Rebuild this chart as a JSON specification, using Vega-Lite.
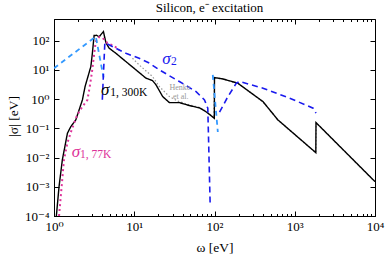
{
  "$schema": "https://vega.github.io/schema/vega-lite/v6.json",
  "width": 321,
  "height": 197,
  "autosize": {"type": "none"},
  "padding": {"left": 54, "top": 19, "right": 15, "bottom": 43},
  "background": "white",
  "title": {"text": "Silicon, e⁻ excitation", "font": "Liberation Serif", "fontSize": 13, "fontWeight": "normal", "color": "black", "offset": 4, "dx": -5},
  "config": {
    "view": {"stroke": "black", "strokeWidth": 1},
    "axis": {"labelFont": "Liberation Serif, DejaVu Serif", "labelFontSize": 13, "labelColor": "black", "tickColor": "black", "domainColor": "black", "grid": false, "labelFlush": false, "labelOverlap": false, "titleFont": "Liberation Serif", "titleFontSize": 13.5, "titleFontWeight": "normal", "titleColor": "black"}
  },
  "datasets": {
    "lines": [
      {"s": "s1_300", "g": "a", "w": 1.07, "v": 0.0001},
      {"s": "s1_300", "g": "a", "w": 1.155, "v": 0.001},
      {"s": "s1_300", "g": "a", "w": 1.27, "v": 0.0083},
      {"s": "s1_300", "g": "a", "w": 1.47, "v": 0.068},
      {"s": "s1_300", "g": "a", "w": 1.62, "v": 0.114},
      {"s": "s1_300", "g": "a", "w": 1.87, "v": 0.194},
      {"s": "s1_300", "g": "a", "w": 2.26, "v": 0.94},
      {"s": "s1_300", "g": "a", "w": 2.44, "v": 2.7},
      {"s": "s1_300", "g": "a", "w": 2.88, "v": 13},
      {"s": "s1_300", "g": "a", "w": 3.01, "v": 38},
      {"s": "s1_300", "g": "a", "w": 3.16, "v": 150},
      {"s": "s1_300", "g": "a", "w": 3.4, "v": 152},
      {"s": "s1_300", "g": "a", "w": 3.65, "v": 135},
      {"s": "s1_300", "g": "a", "w": 4.13, "v": 205},
      {"s": "s1_300", "g": "a", "w": 4.43, "v": 86},
      {"s": "s1_300", "g": "a", "w": 4.87, "v": 55},
      {"s": "s1_300", "g": "a", "w": 5.9, "v": 37},
      {"s": "s1_300", "g": "a", "w": 7.87, "v": 19.2},
      {"s": "s1_300", "g": "a", "w": 10.5, "v": 10},
      {"s": "s1_300", "g": "a", "w": 14.0, "v": 5.2},
      {"s": "s1_300", "g": "a", "w": 16.9, "v": 4.3},
      {"s": "s1_300", "g": "a", "w": 18.7, "v": 3.06},
      {"s": "s1_300", "g": "a", "w": 22.6, "v": 1.22},
      {"s": "s1_300", "g": "a", "w": 27.4, "v": 0.76},
      {"s": "s1_300", "g": "a", "w": 36.5, "v": 0.76},
      {"s": "s1_300", "g": "a", "w": 48.7, "v": 0.6},
      {"s": "s1_300", "g": "a", "w": 65, "v": 0.5},
      {"s": "s1_300", "g": "a", "w": 79.4, "v": 0.36},
      {"s": "s1_300", "g": "a", "w": 99.5, "v": 0.22},
      {"s": "s1_300", "g": "a", "w": 100, "v": 5.45},
      {"s": "s1_300", "g": "a", "w": 127, "v": 4.9},
      {"s": "s1_300", "g": "a", "w": 195, "v": 3.5},
      {"s": "s1_300", "g": "a", "w": 402, "v": 0.82},
      {"s": "s1_300", "g": "a", "w": 617, "v": 0.194},
      {"s": "s1_300", "g": "a", "w": 1830, "v": 0.0147},
      {"s": "s1_300", "g": "a", "w": 1840, "v": 0.157},
      {"s": "s1_300", "g": "a", "w": 10000, "v": 0.0015},

      {"s": "s1_77", "g": "a", "w": 1.155, "v": 0.0001},
      {"s": "s1_77", "g": "a", "w": 1.25, "v": 0.00115},
      {"s": "s1_77", "g": "a", "w": 1.33, "v": 0.0083},
      {"s": "s1_77", "g": "a", "w": 1.47, "v": 0.032},
      {"s": "s1_77", "g": "a", "w": 1.66, "v": 0.089},
      {"s": "s1_77", "g": "a", "w": 1.95, "v": 0.29},
      {"s": "s1_77", "g": "a", "w": 2.26, "v": 0.55},
      {"s": "s1_77", "g": "a", "w": 2.61, "v": 0.94},
      {"s": "s1_77", "g": "a", "w": 2.79, "v": 2.7},
      {"s": "s1_77", "g": "a", "w": 2.96, "v": 7.7},
      {"s": "s1_77", "g": "a", "w": 3.1, "v": 22},
      {"s": "s1_77", "g": "a", "w": 3.25, "v": 63},
      {"s": "s1_77", "g": "a", "w": 3.38, "v": 107},
      {"s": "s1_77", "g": "a", "w": 3.65, "v": 132},
      {"s": "s1_77", "g": "a", "w": 4.02, "v": 125},
      {"s": "s1_77", "g": "a", "w": 4.64, "v": 82},
      {"s": "s1_77", "g": "a", "w": 5.62, "v": 66},
      {"s": "s1_77", "g": "a", "w": 6.5, "v": 48},

      {"s": "s2light", "g": "a", "w": 1, "v": 11.4},
      {"s": "s2light", "g": "a", "w": 3.32, "v": 138},
      {"s": "s2light", "g": "a", "w": 4.14, "v": 5.5},
      {"s": "s2light", "g": "b", "w": 95.2, "v": 6.7},
      {"s": "s2light", "g": "b", "w": 101.5, "v": 0.94},
      {"s": "s2light", "g": "b", "w": 110, "v": 0.075},

      {"s": "s2", "g": "a", "w": 4.0, "v": 0.95},
      {"s": "s2", "g": "a", "w": 4.3, "v": 85},
      {"s": "s2", "g": "a", "w": 7.87, "v": 37},
      {"s": "s2", "g": "a", "w": 11.5, "v": 25},
      {"s": "s2", "g": "a", "w": 15.4, "v": 17},
      {"s": "s2", "g": "a", "w": 20.5, "v": 10},
      {"s": "s2", "g": "a", "w": 36.5, "v": 4.0},
      {"s": "s2", "g": "a", "w": 59, "v": 1.8},
      {"s": "s2", "g": "a", "w": 75, "v": 0.94},
      {"s": "s2", "g": "a", "w": 82.5, "v": 0.49},
      {"s": "s2", "g": "a", "w": 88.3, "v": 0.00024},
      {"s": "s2", "g": "b", "w": 115.5, "v": 0.36},
      {"s": "s2", "g": "b", "w": 147, "v": 1.22},
      {"s": "s2", "g": "b", "w": 187, "v": 3.5},
      {"s": "s2", "g": "b", "w": 205, "v": 4.0},
      {"s": "s2", "g": "b", "w": 402, "v": 2.36},
      {"s": "s2", "g": "b", "w": 866, "v": 1.07},
      {"s": "s2", "g": "b", "w": 1694, "v": 0.49},
      {"s": "s2", "g": "b", "w": 1840, "v": 0.33},

      {"s": "henke", "g": "a", "w": 9.5, "v": 25},
      {"s": "henke", "g": "a", "w": 11.5, "v": 14.8},
      {"s": "henke", "g": "a", "w": 16.9, "v": 5.9},
      {"s": "henke", "g": "a", "w": 20.5, "v": 2.7},
      {"s": "henke", "g": "a", "w": 27.4, "v": 1.22},
      {"s": "henke", "g": "a", "w": 35, "v": 0.85},
      {"s": "henke", "g": "a", "w": 50, "v": 0.62},
      {"s": "henke", "g": "a", "w": 65, "v": 0.52},
      {"s": "henke", "g": "a", "w": 80, "v": 0.38},
      {"s": "henke", "g": "a", "w": 98, "v": 0.23},
      {"s": "henke", "g": "a", "w": 99.8, "v": 5.3},
      {"s": "henke", "g": "a", "w": 127, "v": 4.8},
      {"s": "henke", "g": "a", "w": 195, "v": 3.45},
      {"s": "henke", "g": "a", "w": 402, "v": 0.8},
      {"s": "henke", "g": "a", "w": 617, "v": 0.19},
      {"s": "henke", "g": "a", "w": 1835, "v": 0.0145},
      {"s": "henke", "g": "a", "w": 1850, "v": 0.155},
      {"s": "henke", "g": "a", "w": 10000, "v": 0.0015}
    ],
    "labels": [
      {"s": "s1_300", "k": "main", "t": "σ", "w": 4.34, "v": 2.07},
      {"s": "s1_300", "k": "sub", "t": "1, 300K", "w": 5.01, "v": 1.63},
      {"s": "s2", "k": "main", "t": "σ", "w": 25.1, "v": 23.8},
      {"s": "s2", "k": "sub", "t": "2", "w": 28.7, "v": 18.1},
      {"s": "s1_77", "k": "main", "t": "σ", "w": 1.87, "v": 0.0156},
      {"s": "s1_77", "k": "sub", "t": "1, 77K", "w": 2.11, "v": 0.0118},
      {"s": "henke", "k": "note", "t": "Henke", "w": 37, "v": 2.45},
      {"s": "henke", "k": "note", "t": "et al.", "w": 38, "v": 1.15}
    ]
  },
  "resolve": {"axis": {"x": "independent", "y": "independent"}},
  "layer": [
    {
      "data": {"name": "lines"},
      "transform": [{"filter": "datum.s == 'henke'"}],
      "mark": {"type": "line", "clip": true, "strokeWidth": 1.2, "strokeDash": [1.5, 2]},
      "encoding": {
        "x": {"field": "w", "type": "quantitative", "scale": {"type": "log", "domain": [1, 10000], "nice": false},
          "axis": {"orient": "top", "labels": false, "domain": false, "title": null,
            "values": [1,2,3,4,5,6,7,8,9,10,20,30,40,50,60,70,80,90,100,200,300,400,500,600,700,800,900,1000,2000,3000,4000,5000,6000,7000,8000,9000,10000],
            "tickSize": {"condition": {"test": "datum.value == 1 || datum.value == 10 || datum.value == 100 || datum.value == 1000 || datum.value == 10000", "value": -5}, "value": -2.5}}},
        "y": {"field": "v", "type": "quantitative", "scale": {"type": "log", "domain": [0.0001, 550], "nice": false},
          "axis": {"orient": "right", "labels": false, "domain": false, "title": null, "values": [0.0001, 0.001, 0.01, 0.1, 1, 10, 100], "tickSize": -5}},
        "color": {"field": "s", "type": "nominal", "scale": {"domain": ["henke", "s1_77", "s2light", "s2", "s1_300"], "range": ["#999999", "#dd3399", "#3399ff", "#1a1aee", "#000000"]}, "legend": null},
        "detail": {"field": "g"}
      }
    },
    {
      "data": {"name": "lines"},
      "transform": [{"filter": "datum.s != 'henke'"}],
      "mark": {"type": "line", "clip": true},
      "encoding": {
        "x": {"field": "w", "type": "quantitative",
          "axis": {"orient": "bottom", "title": "ω [eV]", "titleY": 31, "titleBaseline": "middle",
            "values": [1,2,3,4,5,6,7,8,9,10,20,30,40,50,60,70,80,90,100,200,300,400,500,600,700,800,900,1000,2000,3000,4000,5000,6000,7000,8000,9000,10000],
            "labelExpr": "datum.value == 1 ? '10⁰' : datum.value == 10 ? '10¹' : datum.value == 100 ? '10²' : datum.value == 1000 ? '10³' : datum.value == 10000 ? '10⁴' : ''",
            "tickSize": {"condition": {"test": "datum.value == 1 || datum.value == 10 || datum.value == 100 || datum.value == 1000 || datum.value == 10000", "value": -5}, "value": -2.5},
            "labelPadding": 9}},
        "y": {"field": "v", "type": "quantitative",
          "axis": {"orient": "left", "title": "|σ| [eV]", "titleX": -41, "titleY": 97, "titleAlign": "center", "titleBaseline": "middle", "titleAngle": -90,
            "values": [0.0001, 0.001, 0.01, 0.1, 1, 10, 100],
            "labelExpr": "datum.value < 0.0005 ? '10⁻⁴' : datum.value < 0.005 ? '10⁻³' : datum.value < 0.05 ? '10⁻²' : datum.value < 0.5 ? '10⁻¹' : datum.value < 5 ? '10⁰' : datum.value < 50 ? '10¹' : '10²'",
            "tickSize": -5, "labelPadding": 10}},
        "color": {"field": "s", "type": "nominal", "legend": null},
        "strokeDash": {"field": "s", "type": "nominal", "scale": {"domain": ["s1_77", "s2light", "s2", "s1_300"], "range": [[2, 3], [5, 4], [6, 4], [1, 0]]}, "legend": null},
        "strokeWidth": {"field": "s", "type": "nominal", "scale": {"domain": ["s1_77", "s2light", "s2", "s1_300"], "range": [2, 1.4, 1.6, 1.6]}, "legend": null},
        "detail": {"field": "g"}
      }
    },
    {
      "data": {"name": "labels"},
      "transform": [{"filter": "datum.k == 'main'"}],
      "mark": {"type": "text", "font": "Liberation Serif", "fontSize": 17, "fontStyle": "italic", "align": "center", "baseline": "middle"},
      "encoding": {
        "x": {"field": "w", "type": "quantitative", "axis": null},
        "y": {"field": "v", "type": "quantitative", "axis": null},
        "text": {"field": "t"},
        "color": {"field": "s", "type": "nominal", "legend": null}
      }
    },
    {
      "data": {"name": "labels"},
      "transform": [{"filter": "datum.k == 'sub'"}],
      "mark": {"type": "text", "font": "Liberation Serif", "fontSize": 11.5, "align": "left", "baseline": "middle"},
      "encoding": {
        "x": {"field": "w", "type": "quantitative", "axis": null},
        "y": {"field": "v", "type": "quantitative", "axis": null},
        "text": {"field": "t"},
        "color": {"field": "s", "type": "nominal", "legend": null}
      }
    },
    {
      "data": {"name": "labels"},
      "transform": [{"filter": "datum.k == 'note'"}],
      "mark": {"type": "text", "font": "Liberation Serif", "fontSize": 8, "align": "center", "baseline": "middle"},
      "encoding": {
        "x": {"field": "w", "type": "quantitative", "axis": null},
        "y": {"field": "v", "type": "quantitative", "axis": null},
        "text": {"field": "t"},
        "color": {"field": "s", "type": "nominal", "legend": null}
      }
    }
  ]
}
